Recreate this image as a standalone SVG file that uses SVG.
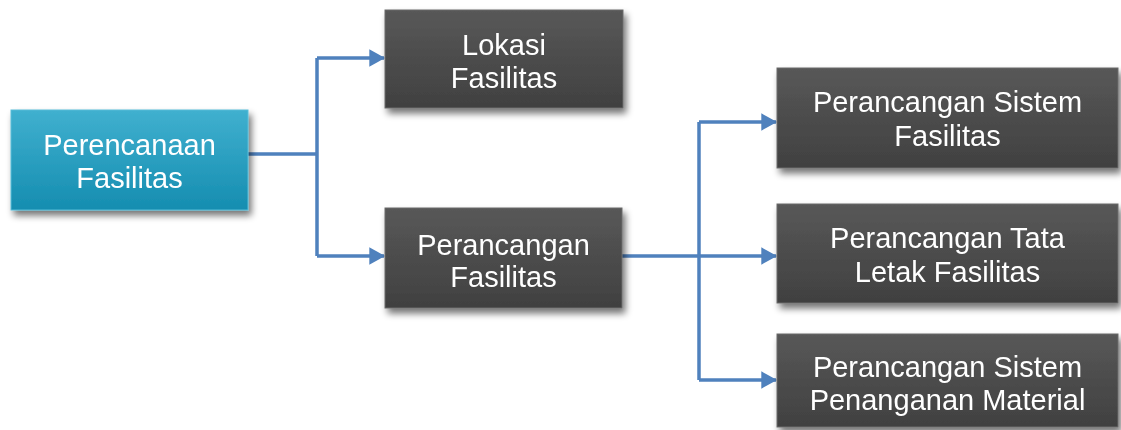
<svg xmlns="http://www.w3.org/2000/svg" width="1121" height="430" viewBox="0 0 1121 430">
<style>
.t{font-family:"Liberation Sans",Arial,sans-serif;font-size:29px;fill:#ffffff;text-anchor:middle}
.dk{fill:url(#gDark);stroke:#6a6a6a;stroke-width:1}
.bl{fill:url(#gBlue);stroke:#58bcd8;stroke-width:1}
.c{fill:none;stroke:#4f81bd;stroke-width:3.5}
</style>
<defs>
<linearGradient id="gDark" x1="0" y1="0" x2="0" y2="1">
<stop offset="0" stop-color="#585858"/>
<stop offset="1" stop-color="#404040"/>
</linearGradient>
<linearGradient id="gBlue" x1="0" y1="0" x2="0" y2="1">
<stop offset="0" stop-color="#40b0cf"/>
<stop offset="1" stop-color="#158db0"/>
</linearGradient>
<filter id="sh" x="-10%" y="-10%" width="125%" height="135%">
<feGaussianBlur in="SourceAlpha" stdDeviation="3.5"/>
<feOffset dx="3" dy="5" result="b"/>
<feComponentTransfer><feFuncA type="linear" slope="0.55"/></feComponentTransfer>
<feMerge><feMergeNode/><feMergeNode in="SourceGraphic"/></feMerge>
</filter>
<marker id="ah" markerWidth="5" markerHeight="5" refX="4.2" refY="2.5" orient="auto" markerUnits="strokeWidth">
<path d="M0,0 L4.5,2.5 L0,5 Z" fill="#4f81bd"/>
</marker>
</defs>
<rect width="1121" height="430" fill="#ffffff"/>
<g id="connectors">
<path class="c" d="M248,154 H317 M317,58 V256"/>
<path class="c" d="M317,58 H384" marker-end="url(#ah)"/>
<path class="c" d="M317,256 H384" marker-end="url(#ah)"/>
<path class="c" d="M622,256 H776" marker-end="url(#ah)"/>
<path class="c" d="M699,122 V380"/>
<path class="c" d="M699,122 H776" marker-end="url(#ah)"/>
<path class="c" d="M699,380 H776" marker-end="url(#ah)"/>
</g>
<g id="n-perencanaan" filter="url(#sh)">
<rect class="bl" x="11" y="110" width="237" height="100"/>
<text class="t" x="129.5" y="155">Perencanaan</text>
<text class="t" x="129.5" y="188">Fasilitas</text>
</g>
<g id="n-lokasi" filter="url(#sh)">
<rect class="dk" x="385" y="10" width="238" height="98"/>
<text class="t" x="504" y="55">Lokasi</text>
<text class="t" x="504" y="88">Fasilitas</text>
</g>
<g id="n-perancangan" filter="url(#sh)">
<rect class="dk" x="385" y="208" width="237" height="100"/>
<text class="t" x="503.5" y="255">Perancangan</text>
<text class="t" x="503.5" y="287">Fasilitas</text>
</g>
<g id="n-sistem-fasilitas" filter="url(#sh)">
<rect class="dk" x="777" y="68" width="341" height="100"/>
<text class="t" x="947.5" y="112">Perancangan Sistem</text>
<text class="t" x="947.5" y="146">Fasilitas</text>
</g>
<g id="n-tata-letak" filter="url(#sh)">
<rect class="dk" x="777" y="204" width="341" height="99"/>
<text class="t" x="947.5" y="248">Perancangan Tata</text>
<text class="t" x="947.5" y="282">Letak Fasilitas</text>
</g>
<g id="n-material" filter="url(#sh)">
<rect class="dk" x="777" y="334" width="341" height="93"/>
<text class="t" x="947.5" y="377">Perancangan Sistem</text>
<text class="t" x="947.5" y="410">Penanganan Material</text>
</g>
</svg>
